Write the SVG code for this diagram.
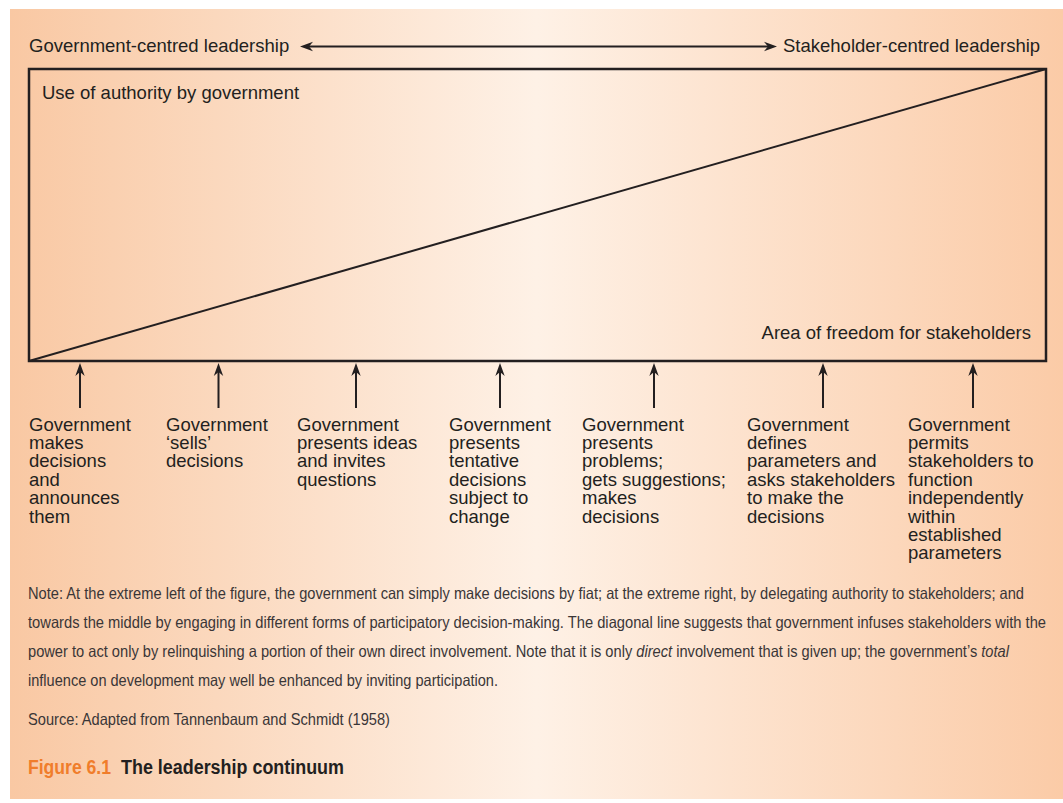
<svg xmlns="http://www.w3.org/2000/svg" width="1063" height="803" viewBox="0 0 1063 803">
<style>
.lbl{font-family:"Liberation Sans",Arial,sans-serif;font-size:18.5px;fill:#231f20}
.note{font-family:"Liberation Sans",Arial,sans-serif;font-size:16.5px;fill:#3a3637}
.cap{font-family:"Liberation Sans",Arial,sans-serif;font-size:20px;font-weight:bold}
.ln{stroke:#231f20;stroke-width:2;fill:none}
</style>
<defs>
<linearGradient id="bg" x1="0" y1="0" x2="1" y2="0">
<stop offset="0" stop-color="#F9C8A3"/>
<stop offset="0.5" stop-color="#FEF1E6"/>
<stop offset="1" stop-color="#FBCBA7"/>
</linearGradient>
<marker id="ah" viewBox="-8 -6 15 12" refX="0" refY="0" markerWidth="15" markerHeight="12" orient="auto-start-reverse" markerUnits="userSpaceOnUse">
<path d="M6,0 L-7,-4.7 L-3,0 L-7,4.7 Z" fill="#231f20"/>
</marker>
</defs>
<rect x="0" y="0" width="1063" height="803" fill="#ffffff"/>
<rect x="10" y="9" width="1053" height="790" fill="url(#bg)"/>

<g id="header">
<text class="lbl" x="29" y="52">Government-centred leadership</text>
<text class="lbl" x="783" y="52">Stakeholder-centred leadership</text>
</g>

<g id="continuum-box">
<rect x="29" y="69" width="1017" height="292" fill="none" stroke="#231f20" stroke-width="2.5"/>
<line x1="29" y1="361" x2="1046" y2="69" stroke="#231f20" stroke-width="2"/>
<text class="lbl" x="42" y="99">Use of authority by government</text>
<text class="lbl" x="1031" y="339" text-anchor="end">Area of freedom for stakeholders</text>
</g>

<g id="connectors">
<line class="ln" x1="306" y1="46.5" x2="771" y2="46.5" marker-start="url(#ah)" marker-end="url(#ah)"/>
<line class="ln" x1="80" y1="408" x2="80" y2="369" marker-end="url(#ah)"/>
<line class="ln" x1="218.5" y1="408" x2="218.5" y2="369" marker-end="url(#ah)"/>
<line class="ln" x1="356" y1="408" x2="356" y2="369" marker-end="url(#ah)"/>
<line class="ln" x1="500" y1="408" x2="500" y2="369" marker-end="url(#ah)"/>
<line class="ln" x1="654" y1="408" x2="654" y2="369" marker-end="url(#ah)"/>
<line class="ln" x1="823" y1="408" x2="823" y2="369" marker-end="url(#ah)"/>
<line class="ln" x1="973" y1="408" x2="973" y2="369" marker-end="url(#ah)"/>
</g>

<g id="style1">
<text class="lbl" x="29" y="430.5"><tspan x="29">Government</tspan><tspan x="29" dy="18.4">makes</tspan><tspan x="29" dy="18.4">decisions</tspan><tspan x="29" dy="18.4">and</tspan><tspan x="29" dy="18.4">announces</tspan><tspan x="29" dy="18.4">them</tspan></text>
</g>
<g id="style2">
<text class="lbl" x="166" y="430.5"><tspan x="166">Government</tspan><tspan x="166" dy="18.4">‘sells’</tspan><tspan x="166" dy="18.4">decisions</tspan></text>
</g>
<g id="style3">
<text class="lbl" x="297" y="430.5"><tspan x="297">Government</tspan><tspan x="297" dy="18.4">presents ideas</tspan><tspan x="297" dy="18.4">and invites</tspan><tspan x="297" dy="18.4">questions</tspan></text>
</g>
<g id="style4">
<text class="lbl" x="449" y="430.5"><tspan x="449">Government</tspan><tspan x="449" dy="18.4">presents</tspan><tspan x="449" dy="18.4">tentative</tspan><tspan x="449" dy="18.4">decisions</tspan><tspan x="449" dy="18.4">subject to</tspan><tspan x="449" dy="18.4">change</tspan></text>
</g>
<g id="style5">
<text class="lbl" x="582" y="430.5"><tspan x="582">Government</tspan><tspan x="582" dy="18.4">presents</tspan><tspan x="582" dy="18.4">problems;</tspan><tspan x="582" dy="18.4">gets suggestions;</tspan><tspan x="582" dy="18.4">makes</tspan><tspan x="582" dy="18.4">decisions</tspan></text>
</g>
<g id="style6">
<text class="lbl" x="747" y="430.5"><tspan x="747">Government</tspan><tspan x="747" dy="18.4">defines</tspan><tspan x="747" dy="18.4">parameters and</tspan><tspan x="747" dy="18.4">asks stakeholders</tspan><tspan x="747" dy="18.4">to make the</tspan><tspan x="747" dy="18.4">decisions</tspan></text>
</g>
<g id="style7">
<text class="lbl" x="908" y="430.5"><tspan x="908">Government</tspan><tspan x="908" dy="18.4">permits</tspan><tspan x="908" dy="18.4">stakeholders to</tspan><tspan x="908" dy="18.4">function</tspan><tspan x="908" dy="18.4">independently</tspan><tspan x="908" dy="18.4">within</tspan><tspan x="908" dy="18.4">established</tspan><tspan x="908" dy="18.4">parameters</tspan></text>
</g>

<g id="note">
<text class="note" x="28" y="599" textLength="996" lengthAdjust="spacingAndGlyphs">Note: At the extreme left of the figure, the government can simply make decisions by fiat; at the extreme right, by delegating authority to stakeholders; and</text>
<text class="note" x="28" y="628" textLength="1018" lengthAdjust="spacingAndGlyphs">towards the middle by engaging in different forms of participatory decision-making. The diagonal line suggests that government infuses stakeholders with the</text>
<text class="note" x="28" y="657" textLength="981" lengthAdjust="spacingAndGlyphs">power to act only by relinquishing a portion of their own direct involvement. Note that it is only <tspan font-style="italic">direct</tspan> involvement that is given up; the government’s <tspan font-style="italic">total</tspan></text>
<text class="note" x="28" y="686" textLength="470" lengthAdjust="spacingAndGlyphs">influence on development may well be enhanced by inviting participation.</text>
<text class="note" x="28" y="725" textLength="362" lengthAdjust="spacingAndGlyphs">Source: Adapted from Tannenbaum and Schmidt (1958)</text>
</g>

<g id="caption">
<text class="cap" x="28" y="774" fill="#F07D2B" textLength="83" lengthAdjust="spacingAndGlyphs">Figure 6.1</text>
<text class="cap" x="121" y="774" fill="#231f20" textLength="223" lengthAdjust="spacingAndGlyphs">The leadership continuum</text>
</g>
</svg>
